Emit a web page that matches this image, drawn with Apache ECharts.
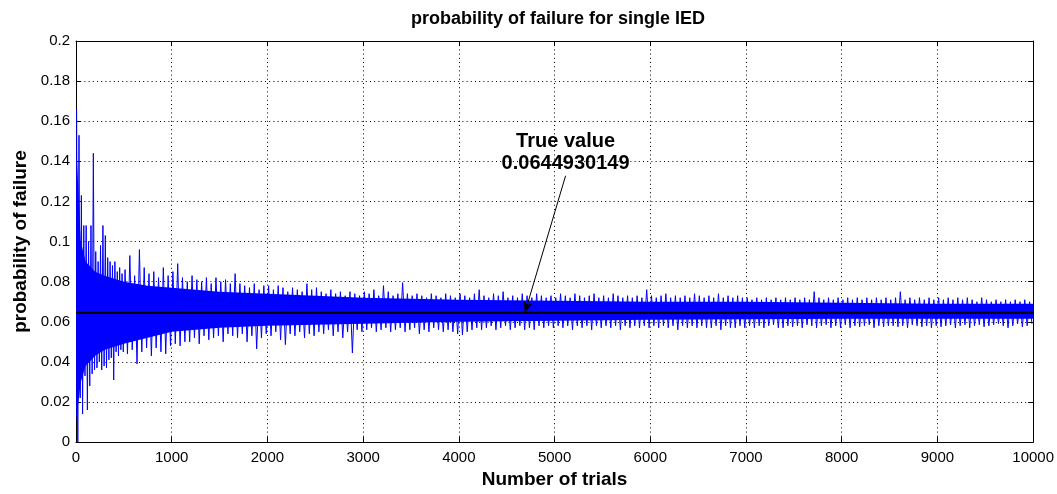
<!DOCTYPE html>
<html><head><meta charset="utf-8">
<script src="https://cdn.jsdelivr.net/npm/echarts@6/dist/echarts.min.js"></script>
<style>html,body{margin:0;padding:0;background:#fff}#c{width:1057px;height:494px}</style>
</head><body><div id="c"></div>
<script>
const chartTitle = 'probability of failure for single IED';
const xName = 'Number of trials';
const yName = 'probability of failure';
const trueValue = 0.0644930149;
const annotationLines = ['True value', '0.0644930149'];
const xMin = 0, xMax = 10000, xStep = 1000;
const yMin = 0, yMax = 0.2, yStep = 0.02;

// Envelope of the running estimate, read per window of trials (max, min)
const earlyStep = 25; // trials 0-500
const earlyHi = [0.166,0.153,0.123,0.108,0.108,0.100,0.108,0.144,0.095,0.090,
                 0.098,0.108,0.103,0.092,0.090,0.088,0.090,0.085,0.087,0.084];
const earlyLo = [0.000,0.022,0.014,0.033,0.016,0.028,0.034,0.036,0.037,0.040,
                 0.036,0.038,0.037,0.041,0.042,0.031,0.045,0.043,0.046,0.045];
const lateStart = 500, lateStep = 50; // trials 500-10000
const lateHi = [
 0.086,0.093,0.083,0.096,0.087,0.084,0.085,0.082,0.087,0.083,
 0.085,0.089,0.082,0.080,0.083,0.081,0.080,0.082,0.079,0.082,
 0.080,0.081,0.079,0.084,0.079,0.078,0.077,0.079,0.076,0.078,
 0.078,0.076,0.078,0.077,0.075,0.077,0.076,0.075,0.079,0.076,
 0.077,0.075,0.074,0.076,0.074,0.075,0.073,0.075,0.074,0.073,
 0.075,0.074,0.076,0.073,0.078,0.075,0.073,0.074,0.0795,0.074,
 0.073,0.074,0.073,0.072,0.074,0.073,0.072,0.074,0.073,0.072,
 0.074,0.073,0.072,0.074,0.076,0.073,0.072,0.074,0.073,0.075,
 0.072,0.073,0.072,0.074,0.073,0.072,0.074,0.073,0.072,0.073,
 0.072,0.074,0.073,0.072,0.074,0.073,0.072,0.073,0.074,0.072,
 0.073,0.072,0.074,0.073,0.072,0.073,0.072,0.073,0.072,0.076,
 0.073,0.072,0.073,0.074,0.072,0.073,0.072,0.073,0.072,0.074,
 0.073,0.072,0.073,0.072,0.074,0.072,0.073,0.072,0.073,0.072,
 0.072,0.071,0.072,0.071,0.072,0.071,0.072,0.071,0.072,0.071,
 0.072,0.071,0.072,0.071,0.075,0.072,0.071,0.072,0.071,0.072,
 0.071,0.072,0.071,0.072,0.071,0.072,0.071,0.072,0.071,0.072,
 0.071,0.072,0.075,0.071,0.072,0.071,0.072,0.071,0.072,0.071,
 0.072,0.071,0.072,0.071,0.072,0.071,0.072,0.071,0.070,0.072,
 0.071,0.070,0.071,0.070,0.071,0.070,0.071,0.070,0.071,0.070];
const lateLo = [
 0.044,0.046,0.039,0.045,0.047,0.043,0.047,0.045,0.044,0.048,
 0.049,0.048,0.050,0.050,0.052,0.049,0.053,0.051,0.052,0.053,
 0.050,0.054,0.053,0.052,0.054,0.050,0.053,0.0465,0.052,0.054,
 0.053,0.055,0.051,0.0486,0.054,0.053,0.055,0.052,0.054,0.053,
 0.055,0.054,0.056,0.053,0.055,0.052,0.055,0.0444,0.056,0.055,
 0.056,0.057,0.055,0.056,0.057,0.055,0.056,0.057,0.055,0.056,
 0.057,0.054,0.056,0.055,0.057,0.056,0.055,0.056,0.055,0.054,
 0.0535,0.055,0.056,0.057,0.056,0.057,0.058,0.056,0.057,0.058,
 0.056,0.057,0.058,0.056,0.057,0.056,0.058,0.057,0.058,0.057,
 0.058,0.057,0.058,0.056,0.058,0.057,0.058,0.056,0.058,0.057,
 0.058,0.057,0.058,0.056,0.058,0.057,0.058,0.057,0.058,0.057,
 0.058,0.057,0.058,0.057,0.058,0.056,0.058,0.057,0.058,0.057,
 0.058,0.057,0.057,0.058,0.056,0.058,0.057,0.057,0.058,0.057,
 0.058,0.057,0.058,0.057,0.058,0.0585,0.057,0.057,0.058,0.0575,
 0.058,0.057,0.0585,0.058,0.057,0.058,0.0585,0.057,0.058,0.057,
 0.0585,0.057,0.058,0.0575,0.058,0.0585,0.057,0.058,0.0575,0.058,
 0.058,0.0575,0.058,0.057,0.0585,0.058,0.0575,0.058,0.057,0.058,
 0.0575,0.058,0.0585,0.057,0.058,0.0585,0.057,0.058,0.0585,0.0575,
 0.058,0.0585,0.059,0.058,0.057,0.058,0.059,0.0575,0.058,0.059];

// Dense (solid) core of the trace, read at a few trial counts
const coreTrials = [1,50,100,200,300,500,750,1000,1500,2000,2500,3000,4000,5000,6000,7000,8000,9000,10000];
const coreHi = [0.150,0.100,0.090,0.085,0.083,0.080,0.078,0.077,0.075,0.074,0.073,0.072,0.071,0.0705,0.070,0.070,0.0695,0.069,0.069];
const coreLo = [0.010,0.030,0.038,0.043,0.046,0.049,0.052,0.055,0.057,0.058,0.0585,0.059,0.060,0.0605,0.061,0.0612,0.0615,0.0615,0.0615];

// Annotation anchor points (trials, probability)
const labelAt = [5115, 0.1445];
const arrowFrom = [5115, 0.1328];
const arrowTo = [4690, trueValue];

const zig = [];
earlyHi.forEach((h, i) => {
  zig.push([i * earlyStep + earlyStep * 0.25, h]);
  zig.push([i * earlyStep + earlyStep * 0.75, earlyLo[i]]);
});
lateHi.forEach((h, i) => {
  zig.push([lateStart + i * lateStep + lateStep * 0.25, h]);
  zig.push([lateStart + i * lateStep + lateStep * 0.75, lateLo[i]]);
});

const FONT = 'Liberation Sans, Arial, sans-serif';
const fmtY = v => (Math.round(v * 100) / 100).toString();
const fmtX = v => String(Math.round(v));
const gridLine = { show: true, lineStyle: { color: '#000', width: 1, type: [1, 3.2] } };
const tick = { show: true, inside: true, length: 5, lineStyle: { color: '#000' } };
const axLine = { show: true, onZero: false, lineStyle: { color: '#000', width: 1 } };

const chart = echarts.init(document.getElementById('c'), null, { renderer: 'canvas' });
chart.setOption({
  animation: false,
  backgroundColor: '#fff',
  title: {
    text: chartTitle, left: 553, top: 5, textAlign: 'center',
    textStyle: { fontFamily: FONT, fontSize: 18, fontWeight: 'bold', color: '#000' }
  },
  grid: { left: 76, right: 23, top: 41, bottom: 47 },
  xAxis: [{
    type: 'value', min: xMin, max: xMax, interval: xStep, position: 'bottom',
    axisLine: axLine, axisTick: tick, splitLine: gridLine,
    axisLabel: { color: '#000', fontFamily: FONT, fontSize: 15, margin: 8, formatter: fmtX },
    name: xName, nameLocation: 'middle', nameGap: 25,
    nameTextStyle: { fontFamily: FONT, fontSize: 19, fontWeight: 'bold', color: '#000', verticalAlign: 'top' }
  }, {
    type: 'value', min: xMin, max: xMax, interval: xStep, position: 'top',
    axisLine: axLine, axisTick: tick, splitLine: { show: false }, axisLabel: { show: false }
  }],
  yAxis: [{
    type: 'value', min: yMin, max: yMax, interval: yStep, position: 'left',
    axisLine: axLine, axisTick: tick, splitLine: gridLine,
    axisLabel: { color: '#000', fontFamily: FONT, fontSize: 15, margin: 6, formatter: fmtY },
    name: yName, nameLocation: 'middle', nameGap: 45, nameRotate: 90,
    nameTextStyle: { fontFamily: FONT, fontSize: 19, fontWeight: 'bold', color: '#000' }
  }, {
    type: 'value', min: yMin, max: yMax, interval: yStep, position: 'right',
    axisLine: axLine, axisTick: tick, splitLine: { show: false }, axisLabel: { show: false }
  }],
  series: [
    { type: 'custom', silent: true, z: 2, data: [0],
      renderItem: (params, api) => {
        const pts = coreTrials.map((t, i) => api.coord([t, coreHi[i]]))
          .concat(coreTrials.map((t, i) => api.coord([t, coreLo[i]])).reverse());
        return { type: 'polygon', shape: { points: pts }, style: { fill: '#0000ff' } };
      } },
    { type: 'line', data: zig, symbol: 'none', silent: true, z: 3, sampling: null,
      lineStyle: { color: '#0000ff', width: 1 } },
    { type: 'line', data: [[xMin, trueValue], [xMax, trueValue]], symbol: 'none', silent: true, z: 5,
      lineStyle: { color: '#000', width: 2 } },
    { type: 'line', data: [], z: 6, silent: true,
      markLine: {
        silent: true, animation: false, symbol: ['none', 'arrow'], symbolSize: [7, 11],
        label: { show: false }, lineStyle: { color: '#000', width: 1, type: 'solid' },
        data: [[{ coord: arrowFrom }, { coord: arrowTo }]]
      } },
    { type: 'scatter', data: [labelAt], symbolSize: 0, silent: true, z: 7,
      itemStyle: { opacity: 1 },
      label: { show: true, position: 'inside', formatter: annotationLines.join('\n'),
        fontFamily: FONT, fontSize: 20, fontWeight: 'bold', color: '#000', opacity: 1,
        lineHeight: 22, align: 'center' } }
  ]
});
</script></body></html>
